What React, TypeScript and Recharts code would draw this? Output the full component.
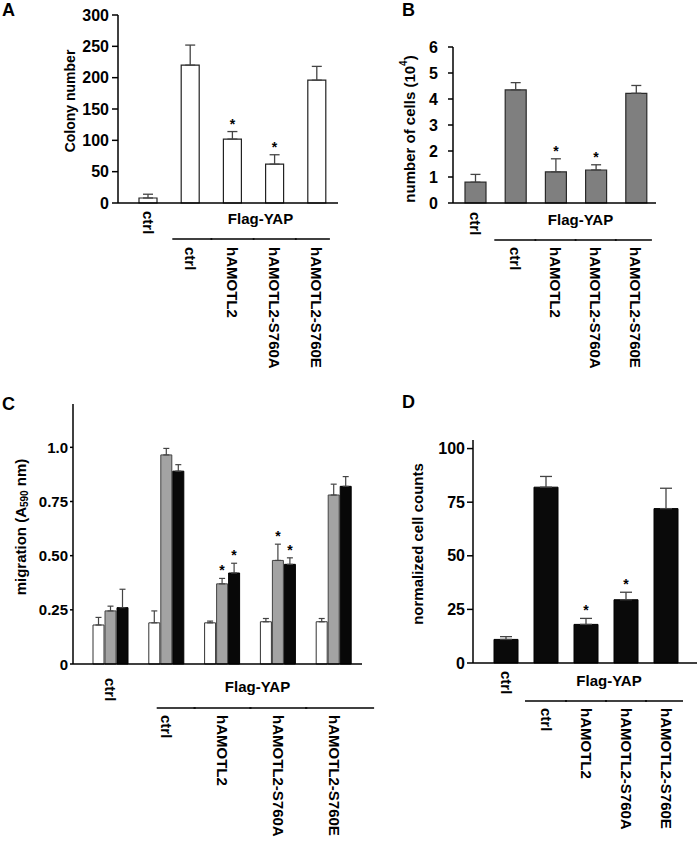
import { BarChart, Bar, XAxis, YAxis, ErrorBar, LabelList } from 'recharts'

// shared x categories (first one is the untransfected control)
const categories = ['ctrl', 'ctrl', 'hAMOTL2', 'hAMOTL2-S760A', 'hAMOTL2-S760E']

// A: soft agar colonies
const colonyMean = [8, 220, 102, 62, 196]
const colonyErr = [6, 32, 12, 15, 22]
const colonyStar = [false, false, true, true, false]
const colonyTicks = [0, 50, 100, 150, 200, 250, 300]

// B: cell number (10^4)
const cellMean = [0.8, 4.35, 1.2, 1.27, 4.22]
const cellErr = [0.3, 0.28, 0.5, 0.2, 0.3]
const cellStar = [false, false, true, true, false]
const cellTicks = [0, 1, 2, 3, 4, 5, 6]

// C: migration, three time points per group
const migWhite = [0.18, 0.19, 0.19, 0.195, 0.195]
const migWhiteErr = [0.035, 0.055, 0.008, 0.015, 0.015]
const migGray = [0.245, 0.965, 0.37, 0.478, 0.78]
const migGrayErr = [0.022, 0.03, 0.025, 0.075, 0.05]
const migBlack = [0.26, 0.89, 0.42, 0.46, 0.82]
const migBlackErr = [0.085, 0.03, 0.045, 0.03, 0.045]
const migStar = [false, false, true, true, false]
const migTicks = [0, 0.25, 0.5, 0.75, 1.0]
const migTickLabels = ['0', '0.25', '0.50', '0.75', '1.0']

// D: normalized cell counts
const countMean = [11, 82, 18, 29.5, 72]
const countErr = [1.3, 5, 2.8, 3.5, 9.5]
const countStar = [false, false, true, true, false]
const countTicks = [0, 25, 50, 75, 100]

const FONT = '"Liberation Sans", Arial, Helvetica, sans-serif'

const colonyData = categories.map((c, i) => ({ id: `g${i}`, mean: colonyMean[i], err: [0, colonyErr[i]] }))
const cellData = categories.map((c, i) => ({ id: `g${i}`, mean: cellMean[i], err: [0, cellErr[i]] }))
const migData = categories.map((c, i) => ({
  id: `g${i}`,
  white: migWhite[i],
  whiteErr: [0, migWhiteErr[i]],
  gray: migGray[i],
  grayErr: [0, migGrayErr[i]],
  black: migBlack[i],
  blackErr: [0, migBlackErr[i]],
}))
const countData = categories.map((c, i) => ({ id: `g${i}`, mean: countMean[i], err: [0, countErr[i]] }))

interface TickCfg {
  ctrlDy: number
  flagDy: number
  lineDy: number
  labelDy: number
  half: number
  lineL: number
  lineR: number
  flagDx: number
}

const groupTick = (cfg: TickCfg) => (props: any) => {
  const { x, y, index } = props
  const name = categories[index]
  const lbl = (dy: number) => (
    <text
      transform={`translate(${x},${y + dy}) rotate(90)`}
      textAnchor="start"
      dominantBaseline="central"
      fontSize={15}
      fontWeight="bold"
      fill="#000"
    >
      {name}
    </text>
  )
  if (index === 0) return lbl(cfg.ctrlDy)
  const left = index === 1 ? x - cfg.lineL : x - cfg.half
  const right = index === categories.length - 1 ? x + cfg.lineR : x + cfg.half
  return (
    <g>
      <line x1={left} x2={right} y1={y + cfg.lineDy} y2={y + cfg.lineDy} stroke="#000" strokeWidth={1.5} />
      {index === 2 && (
        <text
          x={x + cfg.half + cfg.flagDx}
          y={y + cfg.flagDy}
          textAnchor="middle"
          dominantBaseline="central"
          fontSize={15}
          fontWeight="bold"
          fill="#000"
        >
          Flag-YAP
        </text>
      )}
      {lbl(cfg.labelDy)}
    </g>
  )
}

// bold numeric y tick
const yTick = (size: number, fmt?: (v: number) => string) => (props: any) => {
  const { x, y, payload } = props
  const v = payload.value as number
  return (
    <text x={x} y={y} textAnchor="end" dominantBaseline="central" fontSize={size} fontWeight="bold" fill="#000">
      {fmt ? fmt(v) : String(v)}
    </text>
  )
}

const starLabel = (errs: number[], stars: boolean[]) => (p: any) => {
  const vb = p.viewBox ?? p
  const { x, y, width, height } = vb
  const i = p.index
  if (!stars[i] || !p.value) return null
  const errPx = (height / p.value) * errs[i]
  return (
    <text x={x + width / 2} y={y - errPx - 3} textAnchor="middle" fontSize={14} fontWeight="bold" fill="#000">
      *
    </text>
  )
}

const axisStroke = { stroke: '#000', strokeWidth: 1.5 }

export default function App() {
  return (
    <div style={{ position: 'absolute', left: 0, top: 0, width: 700, height: 846, background: '#fff', fontFamily: FONT }}>
      {/* A */}
      <div style={{ position: 'absolute', left: 0, top: 0 }}>
        <BarChart width={350} height={380} data={colonyData} margin={{ top: 15, left: 58, right: 12, bottom: 7 }}>
          <XAxis
            dataKey="id"
            height={170}
            interval={0}
            tickLine={false}
            tickSize={0}
            tickMargin={0}
            padding={{ left: 9, right: 0 }}
            axisLine={axisStroke}
            tick={groupTick({ ctrlDy: 8, flagDy: 15, lineDy: 36, labelDy: 44, half: 22, lineL: 18, lineR: 13, flagDx: 6 })}
          />
          <YAxis
            width={60}
            domain={[0, 300]}
            ticks={colonyTicks}
            interval={0}
            tickSize={6}
            tickMargin={3}
            tick={yTick(16)}
            tickLine={axisStroke}
            axisLine={axisStroke}
          />
          <Bar dataKey="mean" barSize={18} fill="#fff" stroke="#222" strokeWidth={1.2} isAnimationActive={false}>
            <ErrorBar dataKey="err" width={5} stroke="#444" strokeWidth={1.3} direction="y" />
            <LabelList dataKey="mean" content={starLabel(colonyErr, colonyStar)} />
          </Bar>
        </BarChart>
      </div>

      {/* B */}
      <div style={{ position: 'absolute', left: 350, top: 0 }}>
        <BarChart width={350} height={380} data={cellData} margin={{ top: 47, left: 43, right: 44, bottom: 7 }}>
          <XAxis
            dataKey="id"
            height={170}
            interval={0}
            tickLine={false}
            tickSize={0}
            tickMargin={0}
            padding={{ left: 2, right: 0 }}
            axisLine={axisStroke}
            tick={groupTick({ ctrlDy: 9, flagDy: 16, lineDy: 37, labelDy: 44, half: 21, lineL: 21, lineR: 16, flagDx: 4 })}
          />
          <YAxis
            width={60}
            domain={[0, 6]}
            ticks={cellTicks}
            interval={0}
            tickSize={5}
            tickMargin={10}
            tick={yTick(16)}
            tickLine={axisStroke}
            axisLine={axisStroke}
          />
          <Bar dataKey="mean" barSize={21} fill="#7f7f7f" stroke="#2a2a2a" strokeWidth={1.2} isAnimationActive={false}>
            <ErrorBar dataKey="err" width={5} stroke="#444" strokeWidth={1.3} direction="y" />
            <LabelList dataKey="mean" content={starLabel(cellErr, cellStar)} />
          </Bar>
        </BarChart>
      </div>

      {/* C */}
      <div style={{ position: 'absolute', left: 0, top: 380 }}>
        <BarChart width={380} height={466} data={migData} margin={{ top: 24, left: 13, right: 18, bottom: 12 }} barGap={1}>
          <XAxis
            dataKey="id"
            height={170}
            interval={0}
            tickLine={false}
            tickSize={0}
            tickMargin={0}
            padding={{ left: 10, right: 0 }}
            axisLine={axisStroke}
            tick={groupTick({ ctrlDy: 14, flagDy: 22, lineDy: 44, labelDy: 51, half: 29, lineL: 10, lineR: 40, flagDx: 6 })}
          />
          <YAxis
            width={60}
            domain={[0, 1.2]}
            ticks={migTicks}
            interval={0}
            tickSize={3}
            tickMargin={2}
            tick={yTick(15, (v) => migTickLabels[migTicks.indexOf(v)] ?? String(v))}
            tickLine={axisStroke}
            axisLine={axisStroke}
          />
          <Bar dataKey="white" barSize={11} fill="#fff" stroke="#333" strokeWidth={1} isAnimationActive={false}>
            <ErrorBar dataKey="whiteErr" width={3} stroke="#444" strokeWidth={1.2} direction="y" />
          </Bar>
          <Bar dataKey="gray" barSize={11} fill="#a3a3a3" stroke="#444" strokeWidth={1} isAnimationActive={false}>
            <ErrorBar dataKey="grayErr" width={3} stroke="#444" strokeWidth={1.2} direction="y" />
            <LabelList dataKey="gray" content={starLabel(migGrayErr, migStar)} />
          </Bar>
          <Bar dataKey="black" barSize={11} fill="#080808" stroke="#000" strokeWidth={1} isAnimationActive={false}>
            <ErrorBar dataKey="blackErr" width={3} stroke="#444" strokeWidth={1.2} direction="y" />
            <LabelList dataKey="black" content={starLabel(migBlackErr, migStar)} />
          </Bar>
        </BarChart>
      </div>

      {/* D */}
      <div style={{ position: 'absolute', left: 350, top: 380 }}>
        <BarChart width={350} height={466} data={countData} margin={{ top: 60, left: 63, right: 3, bottom: 13 }}>
          <XAxis
            dataKey="id"
            height={170}
            interval={0}
            tickLine={false}
            tickSize={0}
            tickMargin={0}
            padding={{ left: 13, right: 11 }}
            axisLine={axisStroke}
            tick={groupTick({ ctrlDy: 8, flagDy: 17, lineDy: 38, labelDy: 45, half: 21, lineL: 21, lineR: 17, flagDx: 2 })}
          />
          <YAxis
            width={60}
            domain={[0, 104]}
            ticks={countTicks}
            interval={0}
            tickSize={6}
            tickMargin={2}
            tick={yTick(16)}
            tickLine={axisStroke}
            axisLine={axisStroke}
          />
          <Bar dataKey="mean" barSize={24} fill="#0a0a0a" stroke="#000" strokeWidth={1} isAnimationActive={false}>
            <ErrorBar dataKey="err" width={6} stroke="#444" strokeWidth={1.3} direction="y" />
            <LabelList dataKey="mean" content={starLabel(countErr, countStar)} />
          </Bar>
        </BarChart>
      </div>

      {/* panel letters and axis titles */}
      <svg width={700} height={846} style={{ position: 'absolute', left: 0, top: 0, pointerEvents: 'none' }}>
        <g fontWeight="bold" fill="#000" fontSize={18}>
          <text x={2} y={16}>A</text>
          <text x={402} y={16}>B</text>
          <text x={2} y={410}>C</text>
          <text x={402} y={408}>D</text>
        </g>
        <g fontWeight="bold" fill="#000" textAnchor="middle">
          <text transform="translate(70,101) rotate(-90)" dominantBaseline="central" fontSize={14}>
            Colony number
          </text>
          <text transform="translate(409,129) rotate(-90)" dominantBaseline="central" fontSize={15}>
            number of cells (10<tspan dy={-6} fontSize={10}>4</tspan>
            <tspan dy={6}>)</tspan>
          </text>
          <text transform="translate(20,527) rotate(-90)" dominantBaseline="central" fontSize={15}>
            migration (A<tspan dy={4} fontSize={10}>590</tspan>
            <tspan dy={-4}> nm)</tspan>
          </text>
          <text transform="translate(417,544) rotate(-90)" dominantBaseline="central" fontSize={15}>
            normalized cell counts
          </text>
        </g>
      </svg>
    </div>
  )
}
